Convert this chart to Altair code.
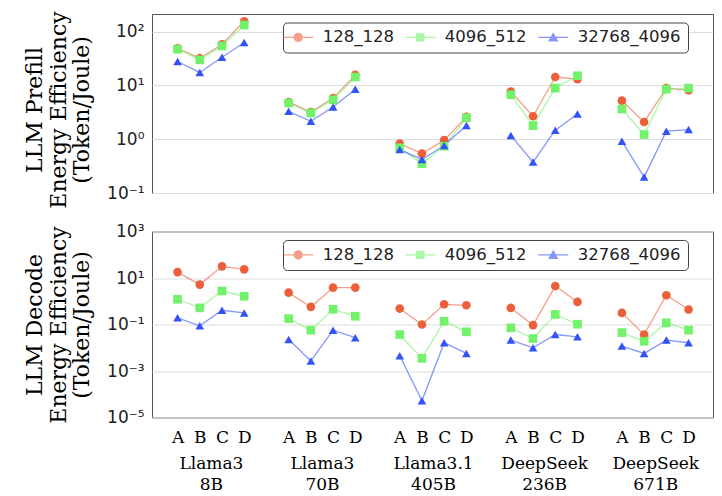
import altair as alt
import pandas as pd

# ---------------- data ----------------
model_names = ["Llama3", "Llama3", "Llama3.1", "DeepSeek", "DeepSeek"]
model_sizes = ["8B", "70B", "405B", "236B", "671B"]
configs = ["A", "B", "C", "D"]
series_names = ["128_128", "4096_512", "32768_4096"]
series_colors = ["#EC5F3B", "#72F26B", "#3352F7"]
series_shapes = ["circle", "square", "triangle-up"]

prefill_128_128 = [49, 32, 58, 155, 4.9, 3.2, 5.8, 15.7, 0.83, 0.54, 0.96, 2.6,
                   7.7, 2.67, 14.3, 13.1, 5.2, 2.09, 8.9, 8.1]
prefill_4096_512 = [47, 29.8, 54, 132, 4.7, 3.07, 5.4, 14.3, 0.69, 0.35, 0.74, 2.5,
                    6.7, 1.79, 8.9, 15.1, 3.64, 1.22, 8.5, 8.9]
prefill_32768_4096 = [27.8, 17.4, 33.4, 62.5, 3.3, 2.15, 3.96, 8.5, 0.64, 0.42, 0.76, 1.79,
                      1.17, 0.375, 1.47, 2.94, 0.92, 0.198, 1.41, 1.51]

decode_128_128 = [18, 5.2, 31.7, 23.6, 2.34, 0.57, 3.84, 3.84, 0.485, 0.1, 0.74, 0.67,
                  0.518, 0.094, 4.5, 0.936, 0.316, 0.037, 1.81, 0.44]
decode_4096_512 = [1.22, 0.52, 2.77, 1.64, 0.18, 0.057, 0.45, 0.227, 0.037, 0.0035, 0.139, 0.0485,
                   0.072, 0.025, 0.27, 0.103, 0.045, 0.019, 0.118, 0.057]
decode_32768_4096 = [0.193, 0.088, 0.41, 0.316, 0.0228, 0.0027, 0.057, 0.027, 0.0045, 5.2e-5, 0.0164, 0.0057,
                     0.0213, 0.01, 0.037, 0.0296, 0.0118, 0.0057, 0.0213, 0.0164]

prefill_title = ["LLM Prefill", "Energy Efficiency", "(Token/Joule)"]
decode_title = ["LLM Decode", "Energy Efficiency", "(Token/Joule)"]


def make_df(values_by_series):
    rows = []
    for s_idx, (s, vals) in enumerate(zip(series_names, values_by_series)):
        for g in range(len(model_names)):
            for c in range(len(configs)):
                rows.append({"series": s, "sidx": s_idx, "clr": series_colors[s_idx],
                             "group": g, "config": configs[c], "pos": g * 5 + c,
                             "value": vals[g * 4 + c]})
    return pd.DataFrame(rows)


df_prefill = make_df([prefill_128_128, prefill_4096_512, prefill_32768_4096])
df_decode = make_df([decode_128_128, decode_4096_512, decode_32768_4096])

# ---------------- helpers ----------------
SUP = {"-": "\u207b", "0": "\u2070", "1": "\u00b9", "2": "\u00b2", "3": "\u00b3",
       "4": "\u2074", "5": "\u2075"}


def pow_label_expr(exps):
    expr = "''"
    for e in exps:
        lab = "10" + "".join(SUP[ch] for ch in str(e))
        expr = f"round(log(datum.value)/LN10) == {e} ? '{lab}' : ({expr})"
    return expr


letter_positions = [g * 5 + c for g in range(len(model_names)) for c in range(len(configs))]
letter_expr = "''"
for c, L in enumerate(configs):
    letter_expr = f"datum.value % 5 == {c} ? '{L}' : ({letter_expr})"

group_positions = [g * 5 + 1.5 for g in range(len(model_names))]
group_expr = "''"
for g in range(len(model_names)):
    group_expr = (f"abs(datum.value - {g * 5 + 1.5}) < 0.1 ? "
                  f"['{model_names[g]}', '{model_sizes[g]}'] : ({group_expr})")

# legend symbols: a thin filled bar (the line) with the marker in its middle
BAR = "M-3.26,-0.13H3.26V0.13H-3.26Z"
legend_paths = [
    BAR + "M1,0A1,1,0,1,1,-1,0A1,1,0,1,1,1,0Z",
    BAR + "M-0.92,-0.92H0.92V0.92H-0.92Z",
    BAR + "M0,-1.12L1.12,0.9L-1.12,0.9Z",
]

PLOT_W = 561
x_scale = alt.Scale(domain=[-1.15, 24.1], nice=False, zero=False)
legend_color_scale = alt.Scale(domain=series_names, range=series_colors)
legend_shape_scale = alt.Scale(domain=series_names, range=legend_paths)

SERIF = "DejaVu Serif"
SANS = "DejaVu Sans"


def panel(df, height, ydomain, yticks, yexps, title_lines, show_x, title_y):
    y_axis = alt.Axis(values=yticks, labelExpr=pow_label_expr(yexps), title=title_lines,
                      titleFont=SERIF, titleFontSize=22, titleFontWeight="normal",
                      titleColor="black", titleLineHeight=23.5, titleX=-117.5, titleY=title_y,
                      titleBaseline="middle",
                      labelFont=SANS, labelFontSize=17, labelColor="#222",
                      labelPadding=8, ticks=False, domain=False, labelFlush=False,
                      labelOverlap=False, grid=True, gridColor="#DDDDDD", gridWidth=1)
    y = alt.Y("value:Q", scale=alt.Scale(type="log", domain=ydomain, nice=False), axis=y_axis)

    if show_x:
        x_letters = alt.X("pos:Q", scale=x_scale,
                          axis=alt.Axis(values=letter_positions, labelExpr=letter_expr, title=None,
                                        orient="bottom", ticks=False, domain=False, grid=False,
                                        labelFont=SERIF, labelFontSize=17, labelColor="black",
                                        labelPadding=12, labelFlush=False, labelOverlap=False))
        x_groups = alt.X("pos:Q", scale=x_scale,
                         axis=alt.Axis(values=group_positions, labelExpr=group_expr, title=None,
                                       orient="bottom", ticks=False, domain=False, grid=False,
                                       labelFont=SERIF, labelFontSize=17, labelColor="black",
                                       labelPadding=38, labelLineHeight=21,
                                       labelFlush=False, labelOverlap=False))
    else:
        x_letters = alt.X("pos:Q", scale=x_scale, axis=None)
        x_groups = alt.X("pos:Q", scale=x_scale, axis=None)
    x_plain = alt.X("pos:Q", scale=x_scale, axis=None)

    leg = alt.Legend(orient="none", legendX=131, legendY=8.5, direction="horizontal",
                     title=None, labelFont=SANS, labelFontSize=16.5, labelColor="#222",
                     symbolSize=85, symbolOffset=0.5, labelOffset=16.3,
                     columnPadding=10, padding=6.5, gridAlign="each",
                     strokeColor="#444", fillColor="white",
                     cornerRadius=4, symbolOpacity=1, symbolStrokeWidth=0)

    base = alt.Chart(df)
    layers = [base.mark_line(strokeWidth=1.3, opacity=0.6).encode(
        x=x_letters, y=y,
        color=alt.Color("clr:N", scale=None),
        detail="group:N",
    )]
    for i, (s, shp) in enumerate(zip(series_names, series_shapes)):
        layers.append(
            base.transform_filter(alt.datum.series == s)
            .mark_point(filled=True, size=75, opacity=1, shape=shp)
            .encode(x=x_groups if i == 0 else x_plain, y=y,
                    color=alt.Color("clr:N", scale=None))
        )
    # legend-only layer (no rows drawn): colour + line-and-marker symbol per series
    layers.append(
        base.transform_filter("datum.value < 0").mark_point(filled=True, opacity=1).encode(
            color=alt.Color("series:N", scale=legend_color_scale, legend=leg),
            shape=alt.Shape("series:N", scale=legend_shape_scale, legend=leg),
        )
    )
    return alt.layer(*layers).resolve_axis(x="independent").properties(
        width=PLOT_W, height=height)


top = panel(df_prefill, 179, [0.1, 212], [0.1, 1, 10, 100], [-1, 0, 1, 2], prefill_title,
            False, 95.5)
bottom = panel(df_decode, 186, [1e-5, 1e3], [1e-5, 1e-3, 1e-1, 10, 1000], [-5, -3, -1, 1, 3],
               decode_title, True, 93)

chart = alt.vconcat(top, bottom, spacing=38.5, bounds="flush").resolve_scale(
    color="independent", shape="independent"
).resolve_legend(
    color="independent", shape="independent"
).properties(
    padding={"left": 15, "top": 2, "right": 0, "bottom": 0}
).configure_view(stroke="#555555", strokeWidth=1)

chart.save("out.html", embed_options={"renderer": "svg", "actions": False})
